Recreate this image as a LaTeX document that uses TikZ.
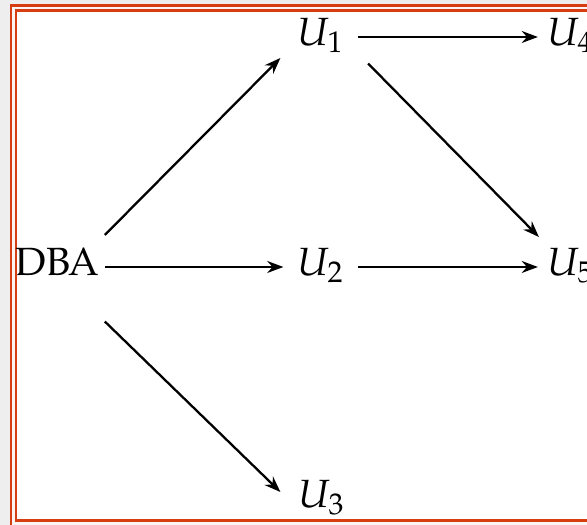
\documentclass[tikz,border=0pt]{standalone}
\usepackage{mathpazo}
\usepackage{fontspec}
\setmainfont{TeX Gyre Pagella}
\usepackage{xcolor}
\usetikzlibrary{arrows.meta}

\definecolor{framered}{RGB}{214,62,18}
\definecolor{pagegray}{RGB}{238,238,238}
\definecolor{framefill}{RGB}{250,244,242}

\begin{document}
\begin{tikzpicture}[
    x=0.01cm, y=-0.01cm,
    >={Stealth[length=4.6pt,width=3.4pt,inset=1.5pt]},
    obj/.style={inner sep=0pt, text height=7.6pt, text depth=2.8pt, font=\fontsize{11.2}{13}\selectfont},
    arr/.style={->, line width=0.65pt},
    frameline/.style={draw=framered, line width=0.85pt},
]

% Page and double frame
\clip (0,0) rectangle (587,525);
\fill[pagegray] (0,0) rectangle (587,525);
\filldraw[frameline, fill=framefill] (11,6) rectangle (620,560);
\filldraw[frameline, fill=white] (16,11) rectangle (615,520.5);

% Objects
\node[obj] (dba) at (57.5,267) {DBA};
\node[obj] (u1) at (321,37) {$U_1$};
\node[obj] (u2) at (321,267) {$U_2$};
\node[obj] (u3) at (322,499) {$U_3$};
\node[obj] (u4) at (571,37) {$U_4$};
\node[obj] (u5) at (571,267) {$U_5$};

% Arrows out of DBA
\draw[arr] ([shift={(0.5mm,1.3mm)}]dba.north east) -- ([shift={(-1.65mm,-0.2mm)}]u1.south west);
\draw[arr] ([xshift=0.5mm]dba.east) -- ([xshift=-1.35mm]u2.west);
\draw[arr] ([shift={(0.5mm,-3.55mm)}]dba.south east) -- ([shift={(-1.75mm,-1.2mm)}]u3.north west);

% Arrows into U4 and U5
\draw[arr] ([xshift=1.3mm]u1.east) -- ([xshift=-0.9mm]u4.west);
\draw[arr] ([shift={(2.3mm,-0.75mm)}]u1.south east) -- ([shift={(-0.8mm,1.1mm)}]u5.north west);
\draw[arr] ([xshift=1.3mm]u2.east) -- ([xshift=-0.9mm]u5.west);

\end{tikzpicture}
\end{document}
